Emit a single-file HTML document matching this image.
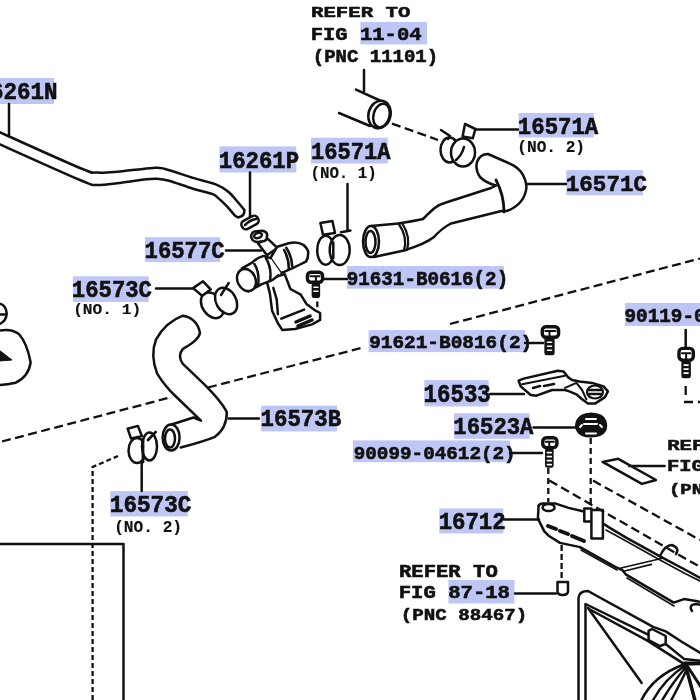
<!DOCTYPE html><html><head><meta charset="utf-8"><style>html,body{margin:0;padding:0;background:#fff;overflow:hidden}svg{display:block}text{font-family:"Liberation Mono",monospace;font-weight:bold;white-space:pre}</style></head><body>
<svg width="700" height="700" viewBox="0 0 700 700">
<rect width="700" height="700" fill="#fff"/>
<g fill="#bec6f5">
<rect x="360.4" y="22.0" width="66.6" height="22.4"/>
<rect x="-24.0" y="78.0" width="78.0" height="26.0"/>
<rect x="219.5" y="146.4" width="76.8" height="26.1"/>
<rect x="311.0" y="137.7" width="76.8" height="25.8"/>
<rect x="518.7" y="113.0" width="75.0" height="24.5"/>
<rect x="566.3" y="170.1" width="76.6" height="25.2"/>
<rect x="144.9" y="237.2" width="75.1" height="24.9"/>
<rect x="72.9" y="276.3" width="75.8" height="25.7"/>
<rect x="347.0" y="266.0" width="157.0" height="22.7"/>
<rect x="368.6" y="330.1" width="156.5" height="22.0"/>
<rect x="624.9" y="302.9" width="95.1" height="23.1"/>
<rect x="424.3" y="380.1" width="64.3" height="26.3"/>
<rect x="261.1" y="405.7" width="76.0" height="25.7"/>
<rect x="454.1" y="413.2" width="75.5" height="25.6"/>
<rect x="352.9" y="440.4" width="157.0" height="21.8"/>
<rect x="110.3" y="491.1" width="77.6" height="25.3"/>
<rect x="439.3" y="508.4" width="64.1" height="25.0"/>
<rect x="448.4" y="580.0" width="66.0" height="23.4"/>
</g>
<g fill="none" stroke="#111" stroke-width="2.5" stroke-linejoin="round" stroke-linecap="round">
<!-- hose 16261N -->
<path d="M-3.0,131.0 C10.8,137.2 63.3,161.1 80.0,168.0 C96.7,174.9 90.3,172.0 97.0,172.6 C103.7,173.2 110.7,172.2 120.0,171.4 C129.3,170.6 145.5,168.3 153.0,167.9 C160.5,167.5 158.3,167.3 165.0,169.0 C171.7,170.7 184.2,175.2 193.0,177.9 C201.8,180.6 211.9,182.8 218.0,185.3 C224.1,187.8 226.0,189.8 229.4,192.7 C232.8,195.6 236.1,200.1 238.6,203.0 C241.1,205.9 243.4,208.8 244.3,209.9"/>
<path d="M-3.0,143.0 C10.8,149.2 63.5,173.0 80.0,180.0 C96.5,187.0 89.3,184.5 96.0,185.0 C102.7,185.5 111.7,183.8 120.0,182.9 C128.3,182.0 139.8,180.0 146.0,179.3 C152.2,178.6 153.2,178.5 157.0,178.7 C160.8,178.9 163.0,179.0 169.0,180.7 C175.0,182.4 185.8,186.5 193.0,188.7 C200.2,190.9 207.8,192.4 212.0,193.9 C216.2,195.4 215.5,195.8 218.0,197.9 C220.5,200.0 224.2,203.5 227.0,206.4 C229.8,209.3 233.1,213.8 235.0,215.6 C236.9,217.4 238.0,217.0 238.6,217.3"/>
<path d="M244.3,209.9 Q245,216 238.6,217.3"/>
<!-- leaders -->
<path d="M9,104 V135 M250,172.5 V219 M347.5,184 V231 M364,70 V91 M475,129.5 H518 M527.4,184 H566 M226,250.4 H261 M156,288.6 H193 M324,279 H347 M525,343 H543 M685.7,330 V347 M490,394 H524 M228.6,418.5 H259 M533.5,427.5 H577 M510,452.9 H542 M141.7,463 V491 M504.3,519.5 H539 M629.3,465.9 H664.6 M515,593.5 H556"/>
<!-- pipe stub 11-04 -->
<path d="M356,89.6 L381,101 M339,113 L370,126"/>
<ellipse cx="379.5" cy="114.5" rx="11" ry="14" transform="rotate(15 379.5 114.5)" fill="#fff"/>
<ellipse cx="381.5" cy="115.5" rx="8" ry="12" transform="rotate(15 381.5 115.5)"/>
<!-- clamp 16571A no.2 -->
<ellipse cx="449.5" cy="150" rx="9" ry="12.5" fill="#fff"/>
<ellipse cx="463" cy="152.5" rx="12" ry="14" fill="#fff"/>
<path d="M464,147 Q462,155 456,160"/>
<path d="M465,124 L475.4,129 L472.8,138.3 L462.6,136.6 Z" fill="#fff"/>
<path d="M441,130 L450,136 L448,139"/>
<!-- hose 16571C -->
<path d="M371,226 L398.5,223.5 Q414,221 423,219 Q430,212 434,208.5 Q440,204 446,202.5 L491,188 L496,185.5" />
<path d="M374,257 L404,250.5 Q425,244 434,237 Q442,228 451,223.5 L501.5,211" />
<path d="M496,185.5 Q486,183 480,177 Q475,170 477,162 Q480,154 488,154 L509.7,163.6 Q525,170 526.5,187 Q525,204 507,211 L501.5,211" fill="#fff"/>
<path d="M496,180 Q504,195 504,212" stroke-width="2.8"/>
<ellipse cx="371" cy="241.6" rx="8" ry="15.5" fill="#fff"/>
<ellipse cx="370.5" cy="242" rx="5" ry="11"/>
<path d="M398.5,223.5 Q408,237 404,250.5 M402,223 Q411,237 407,250" stroke-width="2.2"/>
<!-- clamp 16571A no.1 -->
<ellipse cx="325.7" cy="250.2" rx="8.5" ry="14.5" fill="#fff"/>
<ellipse cx="339.7" cy="250" rx="10" ry="15" fill="#fff"/>
<path d="M320.4,222.9 L332.4,221.1 L335,233.1 L323,234.8 Z" fill="#fff"/>
<path d="M341,232.3 L350.4,230.6 M333.3,242.6 V258" />
<!-- clamp 16573C no.1 -->
<ellipse cx="212.4" cy="305.3" rx="10" ry="14" transform="rotate(-35 212.4 305.3)" fill="#fff"/>
<ellipse cx="226.1" cy="301" rx="10" ry="14" transform="rotate(-30 226.1 301)" fill="#fff"/>
<path d="M193.1,288.1 L203,281.3 L210.7,289.4 L202.1,295.8 Z" fill="#fff"/>
<path d="M228.7,283 L221,295"/>
<!-- hose 16573B -->
<path d="M201,420.7 L193.6,417.5 L170,425 M182.9,315.7 Q197,318 200,332.9 Q199,340 182.9,348.9 Q177,356 182.9,363.9 L204.3,384.3 Q222,402 226.8,412.1 Q227,428 215,436.8 Q205,441 180.7,447.5 M182.9,315.7 Q166,322 156.1,339.3 Q150,355 157.1,373.6 Q165,386 174.3,395 L201,420.7" fill="#fff"/>
<ellipse cx="171.1" cy="437.5" rx="8.5" ry="13" fill="#fff"/>
<ellipse cx="170" cy="438.5" rx="5" ry="9"/>
<!-- clamp 16573C no.2 -->
<ellipse cx="137" cy="450.5" rx="8.5" ry="12.5" fill="#fff"/>
<ellipse cx="149.5" cy="446.5" rx="7.5" ry="14" fill="#fff"/>
<path d="M127.6,428.7 L137.9,425.9 L141.9,436.1 L131,438.4 Z" fill="#fff"/>
<path d="M155.6,432.1 L148,440 M143,440 V462" stroke-width="2.8"/>
<!-- left partial shapes -->
<path d="M-1,350 L12,360 L-1,361 Z" fill="#111" stroke-width="1"/>
<path d="M-2,303.4 Q6,304 6.8,313.6 Q6,322 -2,324.6 M0,314.4 H6"/>
<path d="M-2,330.9 Q11,328 18.9,334 Q27,343 30.6,362.3 Q29,376 15.7,382.7 Q6,385 -2,385.1"/>
<!-- 16533 bracket -->
<path d="M518.6,380.7 L523.6,378.6 L557.9,370.7 L563.6,371.4 L567.9,377.1 L572.1,380 L579.3,381.4 L592.1,382.9 L603.6,386.4 L607.9,391.4 L605,397.1 L595,403.6 L587.9,403.6 L582.1,399.3 L576.4,394.3 L569.3,391.4 L565,390 L552.1,390 L536.4,395.7 L530.7,395 L520.7,386.4 Z" fill="#fff"/>
<path d="M522.1,384.3 L565,375.7 M565,387.9 L576.4,382.9 L582.1,390 L586.4,399.3" stroke-width="2"/>
<ellipse cx="595" cy="392" rx="8" ry="6.5" stroke-width="2.2"/>
<path d="M589,390 H601 M589,394 H601 M533,388 L540,386 M544,386 L554,384" stroke-width="2.6"/>
<!-- nut 16523A -->
<path d="M577,421 Q580,414 591,413.5 Q603,414 605.5,421 Q607,426 605.5,430 Q602,436.5 591,436.5 Q580,436.5 577,430 Q575,426 577,421 Z" fill="#111" stroke-width="2"/>
<path d="M584,424 H597 M586,419 H596 M586,433.5 H596 M580,427 L582,425 M600,425 L602,427" stroke="#fff" stroke-width="2"/>
<!-- bolts -->
<rect x="307.4" y="272.3" width="15.2" height="10.0" rx="3.5" fill="#fff" stroke-width="3.4"/>
<rect x="312.4" y="283.3" width="7.0" height="13.9" rx="1.5" fill="#111" stroke-width="1.5"/>
<path d="M310.4,276.3 H319.6 M315.9,276.3 V282.3" stroke-width="2"/>
<path d="M313.9,287.3 H317.9 M313.9,291.3 H317.9" stroke="#fff" stroke-width="1.6"/>
<rect x="542.3" y="326.7" width="16.3" height="10.6" rx="3.5" fill="#fff" stroke-width="3.4"/>
<rect x="545.1" y="338.3" width="8.8" height="16.3" rx="1.5" fill="#111" stroke-width="1.5"/>
<path d="M545.3,331.0 H555.6 M549.5,331.0 V337.3" stroke-width="2"/>
<path d="M547.5,342.3 H551.5 M547.5,346.3 H551.5 M547.5,350.3 H551.5" stroke="#fff" stroke-width="1.6"/>
<rect x="542.8" y="437.8" width="14.1" height="9.8" rx="3.5" fill="#fff" stroke-width="3.4"/>
<rect x="545.8" y="448.6" width="7.1" height="18.4" rx="1.5" fill="#111" stroke-width="1.5"/>
<path d="M545.8,441.7 H553.9 M549.3,441.7 V447.6" stroke-width="2"/>
<path d="M547.3,452.6 H551.3 M547.3,456.6 H551.3 M547.3,460.6 H551.3 M547.3,464.6 H551.3" stroke="#fff" stroke-width="1.6"/>
<rect x="679.0" y="348.4" width="14.3" height="11.7" rx="3.5" fill="#fff" stroke-width="3.4"/>
<rect x="682.1" y="361.1" width="8.0" height="16.4" rx="1.5" fill="#111" stroke-width="1.5"/>
<path d="M682.0,353.2 H690.3 M686.1,353.2 V360.1" stroke-width="2"/>
<path d="M684.1,365.1 H688.1 M684.1,369.1 H688.1 M684.1,373.1 H688.1" stroke="#fff" stroke-width="1.6"/>
<!-- coupling 16577C -->
<path d="M257.9,243.3 L267,255.3 L277.3,247.9 L267.6,238.7 Z" fill="#fff"/>
<path d="M251,236.4 Q252,231 256.7,231.3 L262.4,230.7 Q268,232 267,236.4 Q267,240 264.1,241 L257.9,242.1 Q252,242 251,236.4 Z" fill="#fff"/>
<ellipse cx="258" cy="235.5" rx="4" ry="2.5" transform="rotate(-20 258 235.5)"/>
<path d="M277.3,246.7 L288.7,243.3 Q297,241 303.6,245 Q309,250 308.1,253.6 Q308,259 305.9,261.6 L299,265 L292.1,268.4 L284.1,271.9 L280.7,273 L270.4,258.1 Z" fill="#fff"/>
<path d="M286.4,247.9 Q292,257 292.1,266.1 M284.1,250 Q289,259 288.7,268.4" stroke-width="2.6"/>
<path d="M266.4,279.9 L269.9,293.6 L272.1,310.7 L277.9,323.3 L282.4,330.1 L295,329 L312.1,324.4 L320.1,319.9 L320.1,313 L315.6,310.7 L306.4,303.9 L300.7,294.7 L290.4,289 L284.7,274.1 Z" fill="#fff"/>
<path d="M273.3,287.9 L276.7,299.3 L277.9,314.1 M281.3,318.7 L304.1,309.6"/>
<path d="M296,322 L310,316 M298,326 L312,320" stroke-width="3.5"/>
<path d="M241.9,268.4 L252.1,262.7 Q256,258 263.6,255.9 L270.4,258.1 L280.7,273 L278.4,275.3 L272.7,279.9 L261.3,284.4 L248.7,291.3 Z" fill="#fff" stroke="none"/>
<path d="M241.9,268.4 L252.1,262.7 Q256,258 263.6,255.9 L270.4,258.1 M248.7,291.3 L261.3,284.4 L272.7,279.9 L278.4,275.3"/>
<ellipse cx="246.5" cy="280" rx="9" ry="11.5" transform="rotate(-25 246.5 280)" fill="#fff"/>
<path d="M254.4,264 Q260,273 258,286 M265.9,258 Q272,268 270,281"/>
<!-- clamp 16261P -->
<rect x="241" y="218" width="18" height="9" rx="4" transform="rotate(-28 250 222.5)" fill="#fff"/>
<path d="M245,225 Q250,220 256,219"/>
<!-- rail 16712 -->
<path d="M538.6,505.7 Q540,503 544.3,503.6 L555.7,503.6 L568.6,507.9 L584,511.5"/>
<ellipse cx="548.6" cy="507.5" rx="6" ry="3.5"/>
<path d="M538.6,505.7 L537.9,518.6 L544.3,531.4 L548.6,535.7 L560,542.9 L580,547.1 L615.7,567.1 L622.3,570 L625.7,574.3 L673.7,602.6 L684,599.1 L696,600.9 L702,602.6"/>
<path d="M581,550 L617,570 M627,578 L674,606" stroke-width="1.6"/>
<path d="M548,526 L556,529 M560,531 L568,534 M572,536 L584,541" stroke-width="4"/>
<path d="M584.3,508.6 H591.4 V521.4 H584.3 Z M591.4,510 H602.9 V538.6 H591.4 Z" fill="#fff"/>
<path d="M604.3,524.3 L608.6,527.1 L625.7,537.4 L660,556.3 L685.7,570 L702,579"/>
<path d="M606,530 L626,541 L660,560 L686,574 L702,582" stroke-width="1.6"/>
<path d="M621,568 L662.3,558.3 M624.7,571 L651.4,564.4" stroke-width="1.6"/>
<path d="M660,556 Q665,545 672,545 Q680,548 676,554"/>
<path d="M692,611 Q688,605 696,604 L702,605"/>
<!-- fan shroud -->
<path d="M578.5,702 V598 Q579,591 588,591 L653.1,626.9 L665.7,631.4 L681.7,641.7 L702,654"/>
<path d="M585.5,702 V604 L648.6,634.9 L665.7,644 L684,658.9 L702,661"/>
<path d="M589,609 L647.4,640.6 L685.1,664.6 L702,664"/>
<path d="M588,608 L641.7,682.9"/>
<path d="M648.6,630.9 L652,629 L665.7,636 V644 L660,646 L648.6,640 Z" fill="#fff"/>
<path d="M640.6,702 Q652,676 685,664 M652,702 Q664,679 686,665 M661.1,702 Q672,683 687,666 M670.3,702 Q678,688 688,667"/>
<path d="M686.3,668 L695.4,702" stroke-width="3.5"/>
<path d="M688.6,668 L702,688.6 M684,663 H702" stroke-width="3"/>
<!-- flat plate right -->
<path d="M602.6,461.9 L618.3,458.8 L656,480 L641.9,483.9 Z"/>
<!-- shroud lines -->
<path d="M0,543.9 H123.5 V702"/>
<!-- 87-18 bolt -->
<path d="M557.5,582 H568 V591 Q568,595 562.7,595 Q557.5,595 557.5,591 Z" fill="#fff"/>
</g>
<g fill="none" stroke="#111" stroke-width="2.3" stroke-dasharray="9 4.5">
<path d="M2,441.5 L172,397 M208,387.5 L363,347.5 M450,324 L700,258.5"/>
<path d="M92.6,700 V467 L118,456" stroke-dasharray="5 3"/>
<path d="M392,123.6 L438,140"/>
<path d="M548.3,468 V502 M590.7,438 V509" stroke-dasharray="6 4"/>
<path d="M549.4,480.6 L700,566.9 M593,480.6 L700,540"/>
<path d="M561.6,545 V579" stroke-dasharray="6 3"/>
<path d="M317.3,301.6 V307.3 M685.7,386 V396 M684,402 H694 M698,402 H702"/>
</g>

<g fill="#111" stroke="#111" stroke-width="0.6" style="opacity:0.999">
<text transform="matrix(0.20725 0 0 0.15441 310.95 17.35)" font-size="100" stroke-width="3.32">REFER TO</text>
<text transform="matrix(0.20529 0 0 0.18088 310.76 40.12)" font-size="100" stroke-width="3.11">FIG 11-04</text>
<text transform="matrix(0.19010 0 0 0.18280 312.77 62.16)" font-size="100" stroke-width="3.22">(PNC 11101)</text>
<text transform="matrix(0.22543 0 0 0.23529 -23.58 99.36)" font-size="100" stroke-width="2.60">16261N</text>
<text transform="matrix(0.22321 0 0 0.23971 218.74 167.86)" font-size="100" stroke-width="2.59">16261P</text>
<text transform="matrix(0.22068 0 0 0.24706 311.06 159.15)" font-size="100" stroke-width="2.57">16571A</text>
<text transform="matrix(0.15829 0 0 0.16022 310.41 177.74)" font-size="100" stroke-width="0.94">(NO. 1)</text>
<text transform="matrix(0.22351 0 0 0.23529 517.84 134.06)" font-size="100" stroke-width="2.62">16571A</text>
<text transform="matrix(0.16140 0 0 0.16022 517.26 151.94)" font-size="100" stroke-width="0.93">(NO. 2)</text>
<text transform="matrix(0.22543 0 0 0.22794 565.82 191.17)" font-size="100" stroke-width="2.65">16571C</text>
<text transform="matrix(0.22257 0 0 0.23824 144.54 257.56)" font-size="100" stroke-width="2.60">16577C</text>
<text transform="matrix(0.22257 0 0 0.23529 71.84 297.16)" font-size="100" stroke-width="2.62">16573C</text>
<text transform="matrix(0.16192 0 0 0.14409 73.15 314.37)" font-size="100" stroke-width="0.98">(NO. 1)</text>
<text transform="matrix(0.19228 0 0 0.19706 346.75 284.90)" font-size="100" stroke-width="3.08">91631-B0616(2)</text>
<text transform="matrix(0.19414 0 0 0.18529 369.14 348.11)" font-size="100" stroke-width="3.16">91621-B0816(2)</text>
<text transform="matrix(0.19290 0 0 0.19412 624.54 321.51)" font-size="100" stroke-width="3.10">90119-06012(2)</text>
<text transform="matrix(0.22431 0 0 0.26029 423.53 402.14)" font-size="100" stroke-width="2.48">16533</text>
<text transform="matrix(0.22393 0 0 0.24118 260.53 426.16)" font-size="100" stroke-width="2.58">16573B</text>
<text transform="matrix(0.22266 0 0 0.24265 453.34 433.86)" font-size="100" stroke-width="2.58">16523A</text>
<text transform="matrix(0.19290 0 0 0.18676 353.74 458.71)" font-size="100" stroke-width="3.16">90099-04612(2)</text>
<text transform="matrix(0.22657 0 0 0.24118 109.81 511.86)" font-size="100" stroke-width="2.57">16573C</text>
<text transform="matrix(0.16166 0 0 0.16559 114.15 532.22)" font-size="100" stroke-width="0.92">(NO. 2)</text>
<text transform="matrix(0.22334 0 0 0.23235 438.64 528.57)" font-size="100" stroke-width="2.63">16712</text>
<text transform="matrix(0.20725 0 0 0.15441 667.15 450.25)" font-size="100" stroke-width="3.32">REFER TO</text>
<text transform="matrix(0.20568 0 0 0.16912 666.95 471.33)" font-size="100" stroke-width="3.20">FIG 16-01</text>
<text transform="matrix(0.19010 0 0 0.14409 668.97 494.27)" font-size="100" stroke-width="3.59">(PNC 16711)</text>
<text transform="matrix(0.20597 0 0 0.17647 398.96 576.82)" font-size="100" stroke-width="3.14">REFER TO</text>
<text transform="matrix(0.20607 0 0 0.17647 398.75 597.82)" font-size="100" stroke-width="3.14">FIG 87-18</text>
<text transform="matrix(0.19169 0 0 0.16129 400.74 620.11)" font-size="100" stroke-width="3.40">(PNC 88467)</text>
</g>
</svg></body></html>
